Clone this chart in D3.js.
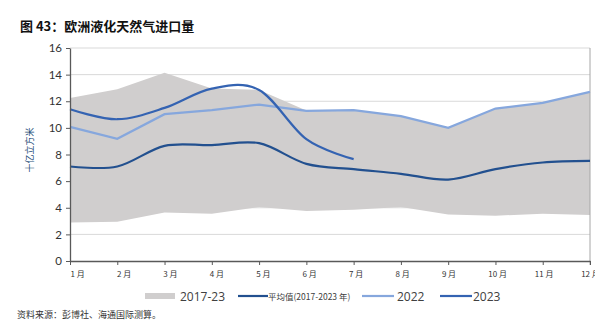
<!DOCTYPE html>
<html><head><meta charset="utf-8">
<script src="https://cdn.jsdelivr.net/npm/d3@7"></script>
<style>
html,body{margin:0;padding:0;background:#fff;}
svg{display:block;}
</style></head>
<body>
<svg id="c" width="595" height="329"></svg>
<script>
const months = [1,2,3,4,5,6,7,8,9,10,11,12];
const monthLabels = ["1 月","2 月","3 月","4 月","5 月","6 月","7 月","8 月","9 月","10 月","11 月","12 月"];
const rangeLow  = [2.9, 2.95, 3.65, 3.55, 4.05, 3.75, 3.85, 4.05, 3.5, 3.4, 3.55, 3.45];
const rangeHigh = [12.25, 12.9, 14.15, 12.95, 12.85, 11.3, 11.35, 10.88, 10.0, 11.45, 11.9, 12.7];
const avg2017_2023 = [7.1, 7.1, 8.65, 8.7, 8.85, 7.3, 6.9, 6.55, 6.12, 6.9, 7.4, 7.52];
const y2022 = [10.08, 9.18, 11.03, 11.33, 11.75, 11.28, 11.33, 10.88, 10.0, 11.45, 11.88, 12.7];
const y2023 = [11.4, 10.65, 11.5, 12.95, 12.85, 9.15, 7.65];
const yTicks = [0,2,4,6,8,10,12,14,16];

const svg = d3.select("#c");
const x = d3.scaleLinear().domain([1,12]).range([70,590]);
const y = d3.scaleLinear().domain([0,16]).range([261,48]);

// title
svg.append("text").attr("x",20).attr("y",31)
  .attr("font-family","'Noto Sans CJK SC'").attr("font-weight","bold").attr("font-size",13)
  .attr("fill","#111").text("图 43：欧洲液化天然气进口量");

// gridlines
svg.append("g").selectAll("line").data(yTicks.filter(d=>d>0)).join("line")
  .attr("x1",70).attr("x2",590).attr("y1",d=>y(d)).attr("y2",d=>y(d))
  .attr("stroke","#D9D9D9").attr("stroke-width",1);

// range area
const area = d3.area().x((d,i)=>x(months[i])).y0((d,i)=>y(rangeLow[i])).y1((d,i)=>y(rangeHigh[i]));
svg.append("path").datum(months).attr("d",area).attr("fill","#D0CECE");

// right border
svg.append("line").attr("x1",590).attr("x2",590).attr("y1",48).attr("y2",265)
  .attr("stroke","#A6A6A6").attr("stroke-width",1);

// lines
const smooth = d3.line().x((d,i)=>x(months[i])).y(d=>y(d)).curve(d3.curveCardinal.tension(0));
const straight = d3.line().x((d,i)=>x(months[i])).y(d=>y(d));
svg.append("path").datum(avg2017_2023).attr("d",smooth).attr("fill","none")
  .attr("stroke","#22508F").attr("stroke-width",2.2);
svg.append("path").datum(y2022).attr("d",straight).attr("fill","none")
  .attr("stroke","#86A7DD").attr("stroke-width",2.2);
svg.append("path").datum(y2023).attr("d",smooth).attr("fill","none")
  .attr("stroke","#3463B2").attr("stroke-width",2.2);

// y axis
const ya = svg.append("g").attr("transform","translate(70,0)")
  .call(d3.axisLeft(y).tickValues(yTicks).tickSize(4).tickSizeOuter(0).tickPadding(4));
ya.select(".domain").attr("stroke","#595959").attr("stroke-width",1.3);
ya.selectAll(".tick line").attr("stroke","#595959");
ya.selectAll("text").attr("font-family","Lato, 'Open Sans', sans-serif").attr("font-size",11.5).attr("fill","#333");

// x axis
const xa = svg.append("g").attr("transform","translate(0,261)")
  .call(d3.axisBottom(x).tickValues(months).tickSize(4).tickSizeOuter(0).tickFormat((d,i)=>monthLabels[i]));
xa.select(".domain").attr("stroke","#595959").attr("stroke-width",1.3);
xa.selectAll(".tick line").attr("stroke","#595959");
xa.selectAll("text").attr("text-anchor","start").attr("x",(d,i)=>-i*0.85).attr("y",10)
  .attr("font-family","'Noto Sans CJK SC'").attr("font-size",8).attr("fill","#333");

// y axis title
svg.append("text").attr("transform","translate(33,150) rotate(-90)").attr("text-anchor","middle")
  .attr("font-family","'Noto Sans CJK SC'").attr("font-size",9).attr("fill","#1F4E79").text("十亿立方米");

// legend
const lg = svg.append("g");
lg.append("rect").attr("x",145).attr("y",293).attr("width",30).attr("height",6).attr("fill","#D0CECE");
lg.append("text").attr("x",180).attr("y",300.5).attr("font-family","'Open Sans', sans-serif").attr("font-size",12).attr("fill","#404040").text("2017-23");
lg.append("line").attr("x1",238).attr("x2",268).attr("y1",296).attr("y2",296).attr("stroke","#22508F").attr("stroke-width",2.2);
lg.append("text").attr("x",268).attr("y",299.5).attr("font-family","'Noto Sans CJK SC'").attr("font-size",8.5).attr("fill","#404040").text("平均值(2017-2023 年)");
lg.append("line").attr("x1",362).attr("x2",394).attr("y1",296).attr("y2",296).attr("stroke","#86A7DD").attr("stroke-width",2.2);
lg.append("text").attr("x",397).attr("y",300.5).attr("font-family","'Open Sans', sans-serif").attr("font-size",12).attr("fill","#404040").text("2022");
lg.append("line").attr("x1",440).attr("x2",472).attr("y1",296).attr("y2",296).attr("stroke","#3463B2").attr("stroke-width",2.2);
lg.append("text").attr("x",473).attr("y",300.5).attr("font-family","'Open Sans', sans-serif").attr("font-size",12).attr("fill","#404040").text("2023");

// source
svg.append("text").attr("x",17).attr("y",318).attr("font-family","'Noto Sans CJK SC'").attr("font-size",9).attr("fill","#333")
  .text("资料来源：彭博社、海通国际测算。");
</script>
</body></html>
